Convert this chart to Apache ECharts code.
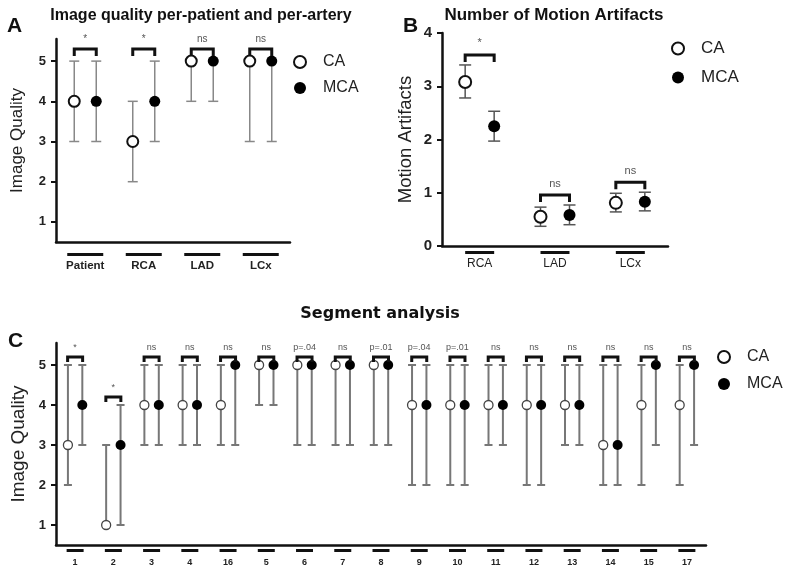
<!DOCTYPE html>
<html>
<head>
<meta charset="utf-8">
<script src="https://cdn.jsdelivr.net/npm/echarts@6/dist/echarts.min.js"></script>
<style>
  html, body { margin: 0; background: #fff; }
  #chart { width: 787px; height: 569px; }
</style>
</head>
<body>
<div id="chart"></div>
<script>
// A: image quality per patient / per artery (median, range)
const catA = ['Patient', 'RCA', 'LAD', 'LCx'];
const caA = [4, 3, 5, 5];
const caLoA = [3, 2, 4, 3];
const caHiA = [5, 4, 5, 5];
const mcaA = [4, 4, 5, 5];
const mcaLoA = [3, 3, 4, 3];
const mcaHiA = [5, 5, 5, 5];
const sigA = ['*', '*', 'ns', 'ns'];

// B: number of motion artifacts (mean, error)
const catB = ['RCA', 'LAD', 'LCx'];
const caB = [3.08, 0.55, 0.81];
const caLoB = [2.78, 0.37, 0.64];
const caHiB = [3.40, 0.73, 0.99];
const mcaB = [2.25, 0.58, 0.83];
const mcaLoB = [1.97, 0.40, 0.66];
const mcaHiB = [2.53, 0.77, 1.01];
const sigB = ['*', 'ns', 'ns'];

// C: segment analysis
const catC = ['1', '2', '3', '4', '16', '5', '6', '7', '8', '9', '10', '11', '12', '13', '14', '15', '17'];
const caC = [3, 1, 4, 4, 4, 5, 5, 5, 5, 4, 4, 4, 4, 4, 3, 4, 4];
const caLoC = [2, 1, 3, 3, 3, 4, 3, 3, 3, 2, 2, 3, 2, 3, 2, 2, 2];
const caHiC = [5, 3, 5, 5, 5, 5, 5, 5, 5, 5, 5, 5, 5, 5, 5, 5, 5];
const mcaC = [4, 3, 4, 4, 5, 5, 5, 5, 5, 4, 4, 4, 4, 4, 3, 5, 5];
const mcaLoC = [3, 1, 3, 3, 3, 4, 3, 3, 3, 2, 2, 3, 2, 3, 2, 3, 3];
const mcaHiC = [5, 4, 5, 5, 5, 5, 5, 5, 5, 5, 5, 5, 5, 5, 5, 5, 5];
const sigC = ['*', '*', 'ns', 'ns', 'ns', 'ns', 'p=.04', 'ns', 'p=.01', 'p=.04', 'p=.01', 'ns', 'ns', 'ns', 'ns', 'ns', 'ns'];

const FONT = 'Liberation Sans, Arial, sans-serif';
const chart = echarts.init(document.getElementById('chart'));

function errorSeries(gi, lo, hi, off, s) {
  return {
    type: 'custom', xAxisIndex: gi, yAxisIndex: gi, z: 2, silent: true,
    data: lo.map((v, i) => [i, v, hi[i]]),
    renderItem: function (params, api) {
      const a = api.coord([api.value(0), api.value(1)]);
      const b = api.coord([api.value(0), api.value(2)]);
      const x = a[0] + off;
      const st = { stroke: s.color, lineWidth: s.width };
      return {
        type: 'group', children: [
          { type: 'line', shape: { x1: x, y1: a[1], x2: x, y2: b[1] }, style: st },
          { type: 'line', shape: { x1: x - s.cap, y1: a[1], x2: x + s.cap, y2: a[1] }, style: st },
          { type: 'line', shape: { x1: x - s.cap, y1: b[1], x2: x + s.cap, y2: b[1] }, style: st }
        ]
      };
    }
  };
}

function bracketSeries(gi, hiA, hiB, sig, off, s) {
  return {
    type: 'custom', xAxisIndex: gi, yAxisIndex: gi, z: 4, silent: true,
    data: hiA.map((v, i) => [i, Math.max(v, hiB[i])]),
    renderItem: function (params, api) {
      const p = api.coord([api.value(0), api.value(1)]);
      const y = p[1] - s.gap;
      return {
        type: 'group', children: [
          {
            type: 'polyline',
            shape: { points: [[p[0] - off, y + s.leg], [p[0] - off, y], [p[0] + off, y], [p[0] + off, y + s.leg]] },
            style: { stroke: '#111', lineWidth: 3, fill: 'none' }
          },
          {
            type: 'text', x: p[0], y: y - s.tgap,
            style: { text: sig[params.dataIndex], fill: '#555', font: s.font, align: 'center', verticalAlign: 'bottom' }
          }
        ]
      };
    }
  };
}

function underlineSeries(gi, cats, yMin, s) {
  return {
    type: 'custom', xAxisIndex: gi, yAxisIndex: gi, z: 4, silent: true, clip: false,
    data: cats.map((c, i) => [i, yMin]),
    renderItem: function (params, api) {
      const p = api.coord([api.value(0), api.value(1)]);
      return { type: 'rect', shape: { x: p[0] - s.w / 2, y: p[1] + s.dy, width: s.w, height: s.h }, style: { fill: '#111' } };
    }
  };
}

function pointSeries(gi, name, vals, off, s) {
  const open = name === 'CA';
  return {
    type: 'scatter', name: name, xAxisIndex: gi, yAxisIndex: gi, z: 3,
    data: vals.map((v, i) => [i, v]),
    symbol: 'circle', symbolSize: s.size, symbolOffset: [off, 0],
    itemStyle: open
      ? { color: '#fff', borderColor: s.border, borderWidth: s.bw, opacity: 1 }
      : { color: '#000', borderWidth: 0, opacity: 1 },
    emphasis: { disabled: true }
  };
}

const axisLine = { show: true, lineStyle: { color: '#111', width: 2.5 } };

function xAxis(gi, cats, fontSize, margin, weight) {
  return {
    gridIndex: gi, type: 'category', data: cats,
    axisLine: axisLine, axisTick: { show: false },
    axisLabel: { margin: margin, fontSize: fontSize, fontWeight: weight, color: '#222', fontFamily: FONT }
  };
}

function yAxis(gi, min, max, name, labelSize, nameSize, nameGap) {
  return {
    gridIndex: gi, type: 'value', min: min, max: max,
    splitLine: { show: false },
    axisLine: axisLine,
    axisTick: { show: true, length: 5, lineStyle: { color: '#111', width: 2 } },
    axisLabel: { showMinLabel: min === 0, showMaxLabel: max === 4, fontSize: labelSize, fontWeight: 'bold', color: '#222', margin: 10, fontFamily: FONT },
    name: name, nameLocation: 'middle', nameGap: nameGap,
    nameTextStyle: { fontSize: nameSize, color: '#222', fontFamily: FONT }
  };
}

const styA = { size: 11, bw: 2, border: '#111' };
const styB = { size: 12, bw: 2, border: '#111' };
const styC = { size: 9, bw: 1.3, border: '#444' };

const series = [
  errorSeries(0, caLoA, caHiA, -11, { color: '#888', width: 1.5, cap: 5 }),
  errorSeries(0, mcaLoA, mcaHiA, 11, { color: '#888', width: 1.5, cap: 5 }),
  pointSeries(0, 'CA', caA, -11, styA),
  pointSeries(0, 'MCA', mcaA, 11, styA),
  bracketSeries(0, caHiA, mcaHiA, sigA, 11, { gap: 12, leg: 7, tgap: 5, font: '10px ' + FONT }),
  underlineSeries(0, catA, 0.5, { w: 36, h: 3, dy: 11 }),

  errorSeries(1, caLoB, caHiB, -14.5, { color: '#555', width: 1.5, cap: 6 }),
  errorSeries(1, mcaLoB, mcaHiB, 14.5, { color: '#555', width: 1.5, cap: 6 }),
  pointSeries(1, 'CA', caB, -14.5, styB),
  pointSeries(1, 'MCA', mcaB, 14.5, styB),
  bracketSeries(1, caHiB, mcaHiB, sigB, 14.5, { gap: 10, leg: 7, tgap: 6, font: '11px ' + FONT }),
  underlineSeries(1, catB, 0, { w: 29, h: 3, dy: 5 }),

  errorSeries(2, caLoC, caHiC, -7.2, { color: '#777', width: 2, cap: 4 }),
  errorSeries(2, mcaLoC, mcaHiC, 7.2, { color: '#777', width: 2, cap: 4 }),
  pointSeries(2, 'CA', caC, -7.2, styC),
  pointSeries(2, 'MCA', mcaC, 7.2, { size: 10, bw: 0, border: '#111' }),
  bracketSeries(2, caHiC, mcaHiC, sigC, 7.5, { gap: 8, leg: 5, tgap: 5, font: '9px ' + FONT }),
  underlineSeries(2, catC, 0.5, { w: 17, h: 3, dy: 4 })
];

function legend(left, top, gap, size) {
  return {
    data: ['CA', 'MCA'], orient: 'vertical', left: left, top: top,
    icon: 'circle', itemWidth: 36, itemHeight: 12, itemGap: gap,
    selectedMode: false,
    textStyle: { fontSize: size, color: '#222', fontFamily: FONT }
  };
}

function title(text, left, top, size, align, family) {
  return {
    text: text, left: left, top: top, textAlign: align, padding: 0,
    textStyle: { fontSize: size, fontWeight: 'bold', color: '#111', fontFamily: family || FONT }
  };
}

chart.setOption({
  animation: false,
  backgroundColor: '#fff',
  title: [
    title('Image quality per-patient and per-artery', 201, 8, 16, 'center'),
    title('A', 7, 16, 21, 'left'),
    title('Number of Motion Artifacts', 554, 7, 17, 'center'),
    title('B', 403, 16, 21, 'left'),
    title('Segment analysis', 380, 306, 16, 'center', 'DejaVu Sans'),
    title('C', 8, 331, 21, 'left')
  ],
  legend: [
    legend(288, 49, 10, 16),
    legend(666, 35, 12, 17),
    legend(712, 344, 11, 16)
  ],
  grid: [
    { left: 56, top: 39, width: 234, height: 203 },
    { left: 442, top: 33, width: 226, height: 213 },
    { left: 56, top: 343, width: 650, height: 202 }
  ],
  xAxis: [
    xAxis(0, catA, 11.5, 18, 'bold'),
    xAxis(1, catB, 12, 12, 'normal'),
    xAxis(2, catC, 9, 13, 'bold')
  ],
  yAxis: [
    yAxis(0, 0.5, 5.55, 'Image Quality', 13, 17, 30),
    yAxis(1, 0, 4, 'Motion Artifacts', 15, 18.5, 27),
    yAxis(2, 0.5, 5.55, 'Image Quality', 13, 19, 25)
  ],
  series: series
});
</script>
</body>
</html>
